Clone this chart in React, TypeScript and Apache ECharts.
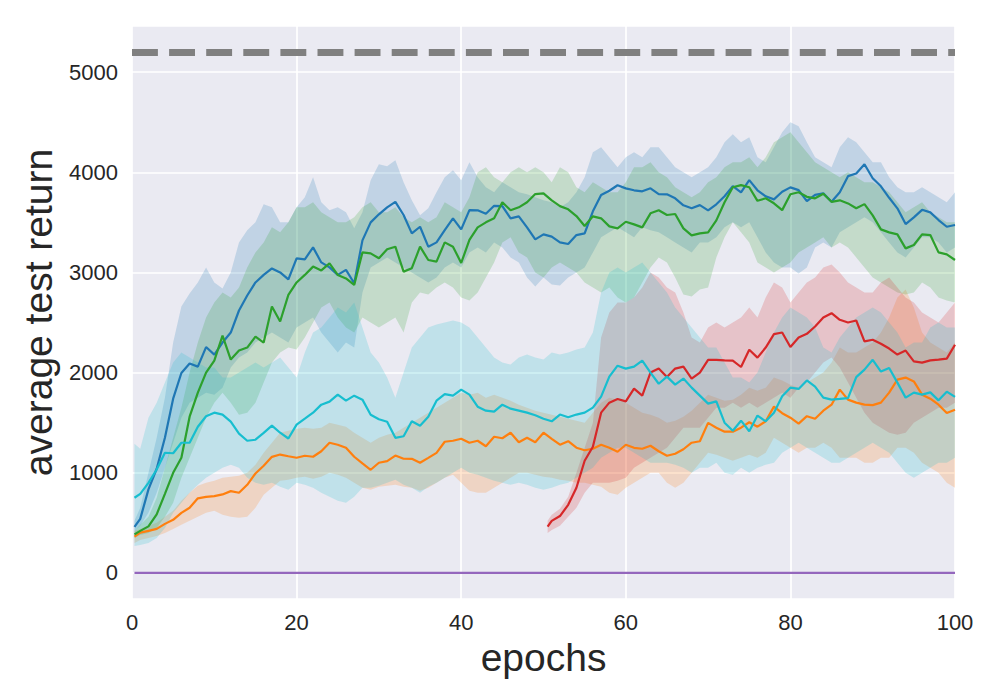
import React, { useEffect, useRef } from "react";
import * as echarts from "echarts";

// ---------- data ----------
const EPOCHS = [0.3, ...Array.from({ length: 100 }, (_, i) => i + 1)];
const RED_EPOCHS = [50.5, ...Array.from({ length: 50 }, (_, i) => i + 51)];

const BLUE = [460, 540, 834, 1040, 1350, 1740, 1996, 2090, 2060, 2255, 2180, 2300, 2400, 2620, 2770, 2900, 2975, 3040, 3000, 2930, 3141, 3131, 3250, 3100, 3050, 2975, 3025, 2892, 3320, 3500, 3580, 3650, 3705, 3573, 3390, 3456, 3257, 3300, 3423, 3540, 3430, 3622, 3620, 3585, 3665, 3662, 3540, 3560, 3450, 3330, 3380, 3357, 3300, 3284, 3373, 3390, 3610, 3772, 3815, 3870, 3839, 3820, 3810, 3840, 3782, 3780, 3740, 3670, 3640, 3672, 3620, 3680, 3760, 3862, 3800, 3921, 3820, 3760, 3729, 3805, 3849, 3822, 3712, 3775, 3789, 3705, 3800, 3961, 3988, 4080, 3940, 3860, 3745, 3640, 3483, 3550, 3625, 3600, 3523, 3456, 3473];
const BLUE_HI = [520, 650, 1000, 1350, 1750, 2300, 2660, 2790, 2900, 3050, 2900, 2840, 3000, 3300, 3420, 3500, 3680, 3650, 3500, 3500, 3650, 3750, 3950, 3700, 3620, 3650, 3600, 3440, 3600, 3920, 4080, 4060, 4120, 3900, 3720, 3570, 3640, 3800, 3950, 4020, 3920, 4100, 3950, 3850, 3800, 3900, 3850, 3800, 3780, 3750, 3720, 3700, 3650, 3700, 3800, 3950, 4200, 4250, 4150, 4050, 4150, 4200, 4150, 4250, 4250, 4150, 4050, 4000, 3950, 4000, 4050, 4150, 4300, 4380, 4300, 4350, 4150, 4100, 4250, 4400, 4500, 4460, 4300, 4150, 4100, 4050, 4250, 4350, 4300, 4200, 4100, 4100, 3950, 3850, 3800, 3800, 3850, 3800, 3750, 3700, 3800];
const BLUE_LO = [420, 470, 600, 800, 1050, 1300, 1550, 1700, 1750, 1800, 1780, 1850, 2050, 2150, 2200, 2300, 2350, 2400, 2350, 2300, 2450, 2500, 2550, 2400, 2300, 2200, 2300, 2250, 2800, 3050, 3100, 3150, 3100, 3050, 3000, 2950, 2900, 2950, 3050, 3100, 3050, 3200, 3250, 3200, 3300, 3250, 3150, 3100, 2950, 2860, 2950, 2880, 2870, 2950, 3000, 3050, 3200, 3350, 3400, 3450, 3400, 3350, 3450, 3420, 3400, 3350, 3300, 3250, 3200, 3300, 3300, 3350, 3450, 3500, 3450, 3500, 3350, 3200, 3100, 3050, 3050, 2990, 3050, 3250, 3300, 3250, 3400, 3450, 3500, 3550, 3500, 3400, 3300, 3200, 3150, 3250, 3350, 3350, 3300, 3200, 3250];

const GREEN = [385, 420, 465, 585, 790, 1000, 1150, 1560, 1800, 2000, 2120, 2370, 2130, 2220, 2250, 2360, 2300, 2659, 2510, 2776, 2900, 2975, 3058, 3020, 3090, 2975, 2940, 2875, 3200, 3190, 3141, 3231, 3257, 3008, 3042, 3257, 3124, 3108, 3300, 3257, 3095, 3324, 3450, 3500, 3540, 3700, 3620, 3650, 3700, 3782, 3789, 3720, 3662, 3630, 3563, 3463, 3560, 3540, 3460, 3440, 3506, 3480, 3450, 3590, 3620, 3573, 3583, 3440, 3370, 3390, 3400, 3520, 3700, 3850, 3872, 3850, 3715, 3740, 3690, 3622, 3780, 3800, 3755, 3740, 3785, 3705, 3720, 3689, 3640, 3682, 3570, 3430, 3400, 3380, 3240, 3274, 3380, 3373, 3200, 3180, 3124];
const GREEN_HI = [420, 480, 560, 750, 1050, 1350, 1650, 2000, 2300, 2550, 2700, 2800, 2750, 2850, 3050, 3200, 3300, 3450, 3400, 3500, 3650, 3650, 3700, 3600, 3550, 3500, 3500, 3550, 3650, 3700, 3600, 3600, 3650, 3550, 3500, 3550, 3500, 3550, 3700, 3650, 3600, 3750, 4000, 4050, 3950, 3900, 4000, 4050, 4000, 4050, 4000, 3900, 4050, 4000, 3850, 3800, 3900, 3850, 3800, 3800, 3900, 4050, 4050, 4100, 4000, 3950, 3850, 3800, 3750, 3800, 3900, 3950, 4050, 4100, 4100, 4150, 4050, 4150, 4300, 4350, 4400, 4300, 4200, 4100, 4050, 4000, 3950, 4000, 3950, 3900, 3900, 3850, 3800, 3700, 3600, 3650, 3700, 3600, 3550, 3500, 3500];
const GREEN_LO = [350, 380, 400, 450, 560, 700, 950, 1150, 1350, 1550, 1700, 1800, 1700, 1580, 1600, 1700, 1900, 2100, 2200, 2250, 2230, 2350, 2500, 2650, 2700, 2550, 2450, 2400, 2550, 2500, 2450, 2500, 2550, 2400, 2700, 2800, 2780, 2850, 2900, 2850, 2750, 2720, 2800, 2950, 3100, 3300, 3350, 3200, 3150, 3000, 2950, 3050, 3100, 3050, 3000, 2900, 2850, 2800, 2850, 2750, 2700, 2750, 2900, 3050, 3150, 3100, 2950, 2780, 2760, 2830, 2850, 3150, 3350, 3500, 3400, 3300, 3100, 3050, 3000, 3050, 3100, 3200, 3250, 3300, 3350, 3250, 3300, 3250, 3150, 3050, 2950, 2900, 2850, 2800, 2780, 2800, 2900, 2850, 2750, 2720, 2700];

const CYAN = [751, 790, 900, 1033, 1200, 1195, 1300, 1300, 1460, 1564, 1600, 1580, 1510, 1390, 1320, 1330, 1398, 1471, 1400, 1342, 1481, 1540, 1600, 1680, 1710, 1780, 1720, 1770, 1730, 1580, 1535, 1510, 1349, 1365, 1514, 1470, 1560, 1720, 1785, 1770, 1830, 1780, 1660, 1620, 1610, 1680, 1640, 1620, 1600, 1575, 1540, 1514, 1581, 1554, 1581, 1600, 1650, 1760, 1960, 2069, 2040, 2060, 2120, 2000, 1889, 1960, 1880, 1940, 1850, 1770, 1690, 1713, 1500, 1420, 1520, 1415, 1571, 1514, 1600, 1763, 1850, 1837, 1922, 1860, 1750, 1730, 1737, 1745, 1955, 2030, 2128, 2010, 2046, 1900, 1750, 1800, 1780, 1803, 1723, 1810, 1757];
const CYAN_HI = [1290, 1240, 1550, 1700, 1900, 2100, 2200, 2150, 2100, 2050, 2050, 1950, 1950, 2000, 2050, 2100, 2050, 2100, 2150, 2050, 1950, 2200, 2400, 2450, 2550, 2650, 2600, 2700, 2450, 2200, 2100, 1950, 1750, 2000, 2250, 2350, 2450, 2480, 2500, 2520, 2500, 2450, 2350, 2250, 2150, 2100, 2080, 2150, 2180, 2150, 2130, 2200, 2180, 2200, 2230, 2250, 2400, 2800, 3000, 3050, 3000, 3050, 3100, 3000, 2900, 2800, 2650, 2550, 2450, 2350, 2250, 2250, 2100, 1950, 1950, 1900, 2000, 2200, 2400, 2550, 2650, 2600, 2550, 2450, 2250, 2200, 2350, 2450, 2550, 2600, 2650, 2600, 2500, 2400, 2250, 2300, 2300, 2450, 2500, 2450, 2450];
const CYAN_LO = [270, 280, 300, 350, 450, 600, 700, 800, 880, 950, 1000, 1050, 1080, 1050, 950, 900, 880, 900, 860, 830, 900, 880, 850, 800, 760, 720, 700, 760, 850, 850, 870, 900, 930, 880, 850, 800, 860, 900, 950, 1000, 1050, 1000, 980, 950, 920, 900, 880, 900, 880, 850, 830, 850, 880, 900, 950, 1000, 1050, 1150, 1200, 1250, 1250, 1200, 1150, 1100, 1100, 1100, 1080, 1050, 1000, 1050, 1050, 1100, 1000, 980, 1050, 1000, 1050, 1080, 1100, 1200, 1250, 1300, 1250, 1200, 1150, 1100, 1100, 1150, 1200, 1250, 1300, 1250, 1200, 1100, 1000, 950, 1000, 1050, 1100, 1100, 1150];

const ORANGE = [363, 402, 420, 440, 490, 530, 600, 651, 745, 760, 767, 784, 817, 801, 880, 993, 1070, 1159, 1182, 1165, 1150, 1170, 1160, 1215, 1300, 1280, 1249, 1160, 1093, 1030, 1100, 1116, 1172, 1140, 1139, 1100, 1149, 1199, 1310, 1320, 1340, 1300, 1320, 1265, 1360, 1345, 1400, 1305, 1349, 1305, 1400, 1339, 1280, 1315, 1250, 1225, 1240, 1280, 1249, 1210, 1280, 1249, 1240, 1270, 1215, 1170, 1190, 1235, 1300, 1315, 1498, 1450, 1410, 1410, 1450, 1504, 1460, 1514, 1660, 1595, 1550, 1491, 1565, 1540, 1620, 1680, 1830, 1730, 1700, 1680, 1675, 1700, 1800, 1930, 1950, 1912, 1780, 1740, 1680, 1597, 1630];
const ORANGE_HI = [420, 440, 470, 500, 560, 620, 720, 800, 870, 900, 920, 950, 960, 970, 1000, 1080, 1200, 1300, 1400, 1420, 1440, 1450, 1440, 1450, 1500, 1480, 1460, 1400, 1350, 1300, 1350, 1380, 1400, 1450, 1500, 1550, 1600, 1650, 1700, 1750, 1800, 1780, 1800, 1750, 1780, 1750, 1720, 1680, 1650, 1620, 1600, 1580, 1560, 1540, 1520, 1500, 1600, 1700, 1750, 1730, 1700, 1650, 1600, 1580, 1550, 1500, 1520, 1560, 1620, 1700, 1780, 1750, 1720, 1730, 1780, 1850, 1820, 1850, 1950, 1920, 1880, 1850, 1900, 1950, 2000, 2100, 2250, 2200, 2200, 2250, 2300, 2400, 2550, 2750, 2830, 2650, 2400, 2300, 2250, 2200, 2300];
const ORANGE_LO = [300, 330, 350, 370, 400, 440, 480, 520, 560, 600, 620, 580, 560, 550, 560, 650, 780, 850, 920, 930, 950, 960, 940, 960, 1000, 980, 950, 900, 850, 830, 860, 870, 880, 860, 850, 820, 850, 900, 950, 980, 900, 820, 800, 800, 850, 900, 950, 1000, 1000, 980, 960, 950, 930, 920, 900, 900, 880, 860, 800, 780, 850, 900, 950, 1000, 1000, 900, 850, 900, 1000, 1100, 1200, 1180, 1150, 1120, 1150, 1180, 1150, 1200, 1350, 1300, 1250, 1200, 1250, 1250, 1300, 1250, 1150, 1150, 1150, 1100, 1100, 1150, 1150, 1250, 1250, 1200, 1100, 1050, 1000, 900, 850];

const RED = [462, 520, 568, 680, 851, 1120, 1260, 1600, 1700, 1737, 1713, 1840, 1770, 2000, 2040, 1956, 2040, 2060, 1940, 2000, 2128, 2128, 2122, 2120, 2056, 2228, 2150, 2250, 2384, 2400, 2255, 2350, 2387, 2460, 2550, 2593, 2527, 2500, 2520, 2311, 2328, 2288, 2240, 2180, 2220, 2112, 2100, 2122, 2130, 2140, 2278];
const RED_HI = [520, 580, 640, 760, 1000, 1250, 1500, 2350, 2600, 2700, 2700, 2750, 2850, 3000, 2950, 2850, 2800, 2600, 2350, 2300, 2450, 2500, 2450, 2500, 2550, 2650, 2550, 2750, 2900, 2850, 2700, 2800, 2900, 2950, 3050, 3080, 3000, 2900, 2850, 2800, 2800, 2900, 2950, 2850, 2750, 2700, 2600, 2550, 2500, 2600, 2700];
const RED_LO = [400, 430, 470, 560, 650, 800, 900, 900, 900, 920, 950, 1050, 1100, 1150, 1200, 1250, 1350, 1450, 1450, 1450, 1550, 1650, 1650, 1700, 1650, 1700, 1650, 1700, 1750, 1800, 1750, 1850, 1900, 2000, 2100, 2150, 2050, 1900, 1750, 1600, 1500, 1450, 1400, 1380, 1400, 1500, 1550, 1600, 1650, 1650, 1700];

const PURPLE_VALUE = 0;
const TARGET_RETURN = 5200;

const X_MIN = 0;
const X_MAX = 100;
const Y_MIN = -260;
const Y_MAX = 5460;

// ---------- styles ----------
const C_BLUE = "#1f77b4";
const C_ORANGE = "#ff7f0e";
const C_GREEN = "#2ca02c";
const C_RED = "#d62728";
const C_PURPLE = "#9467bd";
const C_CYAN = "#17becf";
const TEXT = "#262626";
const FONT = "'Liberation Sans', Arial, Helvetica, sans-serif";

function hexToRgba(hex: string, a: number) {
  const n = parseInt(hex.slice(1), 16);
  return `rgba(${(n >> 16) & 255},${(n >> 8) & 255},${n & 255},${a})`;
}

function band(xs: number[], lo: number[], hi: number[], color: string) {
  return {
    type: "custom",
    coordinateSystem: "cartesian2d",
    silent: true,
    z: 1,
    clip: true,
    data: [[xs[0], lo[0]]],
    renderItem: (_params: any, api: any) => {
      const pts: number[][] = [];
      for (let i = 0; i < xs.length; i++) pts.push(api.coord([xs[i], hi[i]]));
      for (let i = xs.length - 1; i >= 0; i--) pts.push(api.coord([xs[i], lo[i]]));
      return {
        type: "polygon",
        shape: { points: pts },
        style: { fill: hexToRgba(color, 0.2), stroke: "none" },
      };
    },
  };
}

function line(xs: number[], ys: number[], color: string, extra: any = {}) {
  return {
    type: "line",
    data: xs.map((x, i) => [x, ys[i]]),
    showSymbol: false,
    symbol: "none",
    silent: true,
    z: 3,
    lineStyle: { width: 2.2, color },
    itemStyle: { color },
    ...extra,
  };
}

export default function App() {
  const ref = useRef<HTMLDivElement>(null);
  useEffect(() => {
    if (!ref.current) return;
    const chart = echarts.init(ref.current, undefined, { renderer: "svg" });
    const option = {
      animation: false,
      backgroundColor: "#ffffff",
      grid: {
        left: 132,
        right: 45,
        top: 26,
        bottom: 101,
        show: true,
        backgroundColor: "#eaeaf2",
        borderWidth: 0,
      },
      xAxis: {
        type: "value",
        min: X_MIN,
        max: X_MAX,
        interval: 20,
        name: "epochs",
        nameLocation: "middle",
        nameGap: 33,
        nameTextStyle: { fontSize: 39, color: TEXT, fontFamily: FONT },
        axisLine: { show: false },
        axisTick: { show: false },
        axisLabel: { fontSize: 22, color: TEXT, fontFamily: FONT, margin: 12 },
        splitLine: { show: true, lineStyle: { color: "#ffffff", width: 1.7 } },
      },
      yAxis: {
        type: "value",
        min: Y_MIN,
        max: Y_MAX,
        name: "average test return",
        nameLocation: "middle",
        nameGap: 73,
        nameTextStyle: { fontSize: 39, color: TEXT, fontFamily: FONT },
        axisLine: { show: false },
        axisTick: { show: false },
        axisLabel: {
          fontSize: 22,
          color: TEXT,
          fontFamily: FONT,
          margin: 14,
          showMinLabel: false,
          showMaxLabel: false,
          formatter: (v: number) => String(v),
        },
        splitLine: { show: true, lineStyle: { color: "#ffffff", width: 1.7 } },
      },
      series: [
        band(EPOCHS, BLUE_LO, BLUE_HI, C_BLUE),
        band(EPOCHS, ORANGE_LO, ORANGE_HI, C_ORANGE),
        band(EPOCHS, GREEN_LO, GREEN_HI, C_GREEN),
        band(RED_EPOCHS, RED_LO, RED_HI, C_RED),
        band(EPOCHS, CYAN_LO, CYAN_HI, C_CYAN),
        line(EPOCHS, BLUE, C_BLUE),
        line(EPOCHS, ORANGE, C_ORANGE),
        line(EPOCHS, GREEN, C_GREEN),
        line(RED_EPOCHS, RED, C_RED),
        line(
          EPOCHS,
          EPOCHS.map(() => PURPLE_VALUE),
          C_PURPLE,
          {
            markLine: {
              silent: true,
              symbol: "none",
              label: { show: false },
              lineStyle: { color: "#808080", width: 7, type: [25.9, 11.2], cap: "butt" },
              data: [{ yAxis: TARGET_RETURN }],
            },
          }
        ),
        line(EPOCHS, CYAN, C_CYAN),
      ],
    };
    chart.setOption(option as any);
    return () => chart.dispose();
  }, []);
  return (
    <div
      ref={ref}
      style={{ position: "fixed", left: 0, top: 0, width: 1000, height: 700, background: "#fff" }}
    />
  );
}
